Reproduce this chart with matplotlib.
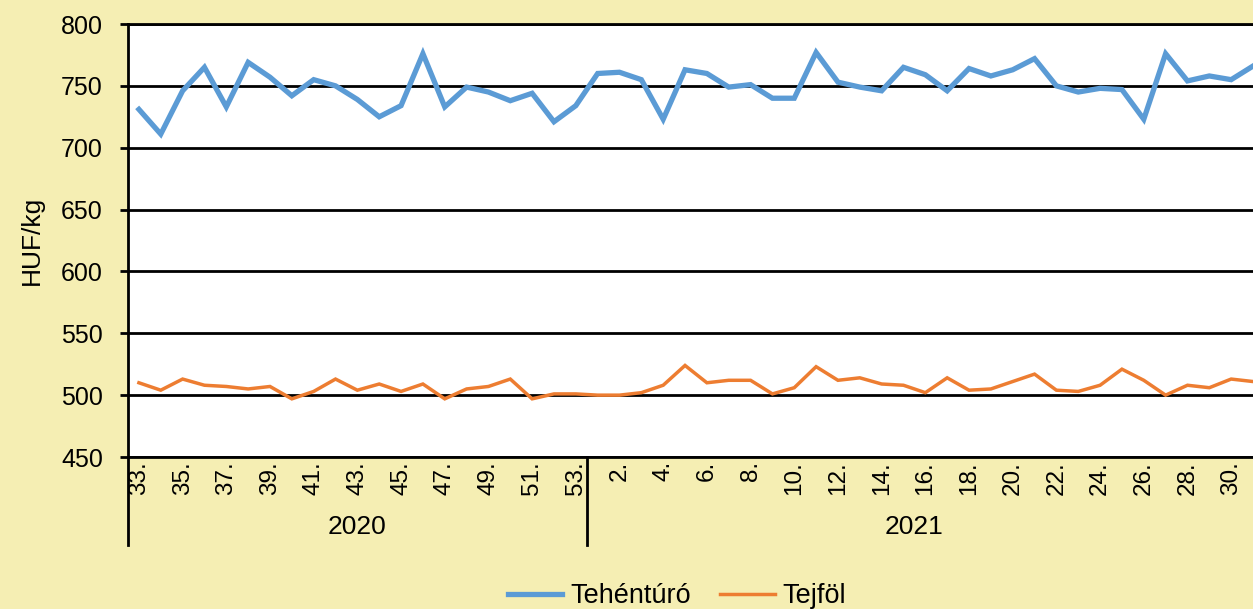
import matplotlib
matplotlib.use("Agg")
from matplotlib import pyplot as plt

plt.rcParams['font.family'] = ['Liberation Sans', 'DejaVu Sans']

# Weeks: 2020 week 33..53, then 2021 week 1..31
weeks_2020 = list(range(33, 54))
weeks_2021 = list(range(1, 32))
years = ["2020", "2021"]

tehenturo = [731, 711, 746, 765, 733, 769, 757, 742, 755, 750, 739, 725, 734, 776,
             733, 749, 745, 738, 744, 721, 734,
             760, 761, 755, 723, 763, 760, 749, 751, 740, 740, 777, 753, 749, 746,
             765, 759, 746, 764, 758, 763, 772, 750, 745, 748, 747, 723, 776, 754,
             758, 755, 766]
tejfol = [510, 504, 513, 508, 507, 505, 507, 497, 503, 513, 504, 509, 503, 509,
          497, 505, 507, 513, 497, 501, 501,
          500, 500, 502, 508, 524, 510, 512, 512, 501, 506, 523, 512, 514, 509,
          508, 502, 514, 504, 505, 511, 517, 504, 503, 508, 521, 512, 500, 508,
          506, 513, 511]

BG = "#F5EEB3"
FS = 18

weeks = weeks_2020 + weeks_2021
x = list(range(len(weeks)))

fig = plt.figure(figsize=(12.53, 6.09), dpi=100, facecolor=BG)
ax = fig.add_axes([128 / 1253, 1 - 457 / 609, 1125 / 1253, 433 / 609])
ax.set_facecolor("white")

ax.plot(x, tehenturo, color="#5B9BD5", lw=3.8, solid_joinstyle="miter",
        label="Tehéntúró", zorder=3)
ax.plot(x, tejfol, color="#ED7D31", lw=2.5, solid_joinstyle="miter",
        label="Tejföl", zorder=3)

ax.set_ylim(450, 800)
ax.set_yticks(range(450, 801, 50))
ax.set_xlim(-0.5, len(weeks) - 1)
ax.grid(axis="y", color="black", lw=2, zorder=1)
ax.set_axisbelow(True)

# label every other week
ticks = [i for i, w in zip(x, weeks) if (i < len(weeks_2020) and w % 2 == 1)
         or (i >= len(weeks_2020) and w % 2 == 0)]
ax.set_xticks(ticks, [f"{weeks[i]}." for i in ticks], rotation=90)
ax.tick_params(axis="x", length=0, pad=3, labelsize=17.5)
ax.tick_params(axis="y", length=6, width=2, pad=12, labelsize=FS, direction="out")

for s in ["left", "bottom", "top"]:
    ax.spines[s].set_color("black")
    ax.spines[s].set_linewidth(2)
ax.spines["right"].set_visible(False)

ax.set_ylabel("HUF/kg", fontsize=19, labelpad=12)

# year group separators and labels
tr = ax.get_xaxis_transform()
n20 = len(weeks_2020)
for xs in [-0.5, n20 - 0.5]:
    ax.plot([xs, xs], [0, -88 / 433], color="black", lw=2, transform=tr,
            clip_on=False)
ax.text((n20 - 1) / 2, -70 / 433, years[0], transform=tr, ha="center",
        va="center", fontsize=19)
ax.text(n20 + 14.5, -70 / 433, years[1], transform=tr, ha="center",
        va="center", fontsize=19)

fig.legend(loc="center", bbox_to_anchor=(677 / 1253, 1 - 596 / 609), ncol=2,
           frameon=False, fontsize=19.5, handlelength=2.0, handletextpad=0.3,
           columnspacing=1.1)

fig.savefig("out.png", dpi=100, facecolor=BG)
